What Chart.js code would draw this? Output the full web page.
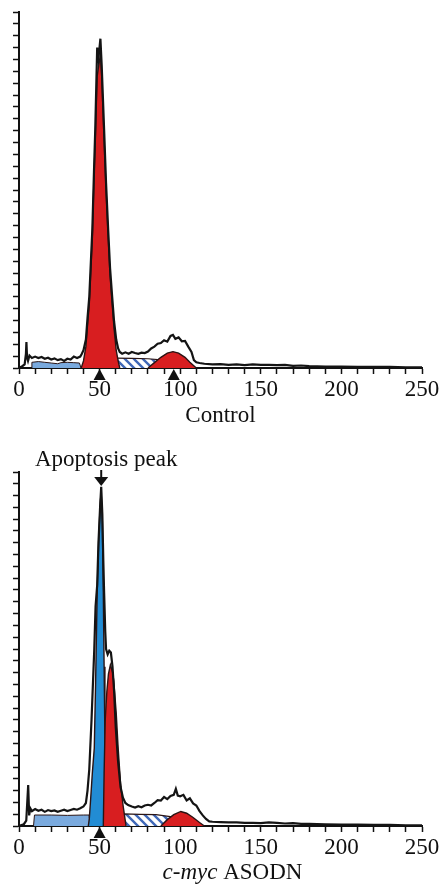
<!DOCTYPE html>
<html lang="en">
<head>
<meta charset="UTF-8">
<title>DNA histograms</title>
<script src="https://cdn.jsdelivr.net/npm/chart.js"></script>
<style>
  body { margin: 0; background: #fff; }
  canvas { position: absolute; left: 0; }
  #grafControl { top: 0; }
  #grafAsodn { top: 436px; }
</style>
</head>
<body>
<canvas id="grafControl" width="444" height="436"></canvas>
<canvas id="grafAsodn" width="444" height="450"></canvas>
<script>
// x = DNA channel, y = % of full scale
const xTickLabels = [0, 50, 100, 150, 200, 250];

// Control
const ctrlOutline = [[0,0],[2,0.5],[3.5,1],[4.3,4],[4.6,7.3],[5,3],[5.6,2],[6.5,3.5],[8,2.8],[10,3.2],[12,2.8],[14,3.1],[16,2.6],[18,2.9],[20,2.4],[22,2.7],[24,2.2],[26,2.5],[28,2],[30,2.6],[32,2.4],[34,3.2],[36,2.8],[38,3.2],[39,4],[40,5],[41.5,8],[42.5,14],[43.6,20],[45.5,39],[46.5,55],[47.3,67],[48.5,90],[49.3,87],[50.5,92.5],[51.3,85],[52.8,67],[54,52],[55.3,39],[56.5,28],[57.8,20],[59,13],[60.3,8],[61.5,5.5],[62.5,4.5],[64,4],[66,4.4],[68,4],[70,4.5],[72,4.2],[74,4],[76,4.3],[78,4.2],[80,4.6],[82,5.5],[84,6],[86,6.8],[88,7],[90,7.8],[92,7.4],[94,9],[95.5,9.3],[97,8.2],[99,8.6],[101,7.5],[103,7.6],[105,6],[107,4.5],[108.5,2.2],[110,1.6],[112,1.4],[115,1.2],[120,1],[125,1.1],[130,0.9],[135,1],[140,0.8],[145,1],[150,0.9],[155,0.9],[160,0.8],[165,0.9],[170,0.6],[175,0.7],[180,0.5],[190,0.4],[200,0.4],[210,0.3],[220,0.3],[230,0.3],[240,0.2],[250,0.2]];
const ctrlG1 = [[38.6,0],[40,2],[41.5,6],[42.5,12],[43.6,18],[45.5,37],[46.5,53],[47.3,64],[48.5,82],[49.5,85],[50.5,88],[51.3,82],[52.8,64],[54,50],[55.3,37],[56.5,26],[57.8,18],[59,11],[60.3,5],[61.5,2],[62.5,0]];
const ctrlS = [[42,0],[46,2.4],[52,2.8],[60,2.8],[70,2.7],[80,2.6],[90,2.2],[100,1.5],[106,0]];
const ctrlG2 = [[80,0],[84,1.5],[88,3],[92,4.2],[95.5,4.6],[99,4.2],[103,3],[106,1.6],[110,0]];
const ctrlDebris = [[7.7,0],[8,1.6],[12,1.8],[16,1.6],[20,1.4],[24,1.2],[26,1.5],[30,1.6],[34,1.5],[37.5,1.4],[38.5,0]];
const ctrlMarks = [50, 96];

// c-myc ASODN
const asoOutline = [[0,0],[3,0.5],[4.5,1.5],[5.7,11.6],[6.3,3],[7,5],[8,4.2],[10,4.8],[12,4.3],[14,4.6],[16,4],[18,4.5],[20,4.2],[22,4.4],[24,4],[26,4.3],[28,4.6],[30,4.2],[32,4.5],[34,4.8],[36,4.6],[38,5],[40,5.5],[41.5,6.5],[42.5,10],[43.6,16],[45,30],[46.7,50],[47.5,62],[48.5,68],[49.3,80],[50.3,90],[51,95.8],[51.7,88],[52.3,75],[52.8,66],[53.5,55],[54,50],[55,48.5],[56,49.5],[57,49],[58,45],[59,38],[60,28],[61.5,18],[63,11],[64.5,8],[66,6.5],[67.7,5.9],[70,5.5],[72,5.2],[74,5.6],[76,5.3],[78,5.8],[80,6],[82,5.8],[84,6.5],[86,7.3],[88,7.2],[90,8.2],[92,7.6],[94,8.5],[96,8.8],[97.3,10.5],[98.5,8.6],[100,8.4],[102,8.8],[104,7.2],[106,7.8],[108,6.4],[110,5.8],[112,4.2],[114,3],[116,2],[118,1.3],[120,1.2],[125,1.1],[130,1],[135,1],[140,0.9],[145,0.9],[150,0.8],[155,1],[160,0.9],[165,0.7],[170,0.8],[175,0.6],[180,0.6],[190,0.5],[200,0.4],[210,0.4],[220,0.3],[230,0.3],[240,0.2],[250,0.2]];
const asoApop = [[43,0],[43.6,2],[44.5,8],[45.5,15],[46.7,22],[47.5,40],[48.5,66],[49.5,82],[50.5,92],[51,94],[51.7,86],[52.3,66],[52.8,45],[53.3,25],[53.8,8],[54.3,0]];
const asoG1 = [[52.3,0],[52.8,15],[53.5,30],[54.5,38],[55.5,43],[56.7,45.5],[58,43.5],[58.8,41],[60.3,32],[61.5,22],[63,12],[64.5,6],[66.4,0]];
const asoS = [[52,0],[56,3.2],[65,3.4],[75,3.3],[85,3.2],[95,2.6],[102,1.5],[110,0]];
const asoG2 = [[88,0],[92,1.8],[96,3.2],[100.4,4.1],[104,3.6],[108,2.4],[112,1],[115,0]];
const asoDebris = [[9,0],[9.6,3.1],[20,3.1],[30,3],[40,3.1],[43.5,3.1],[44,0]];
const asoMarks = [50];
const apopPeakAt = 51;

const FONTE = 'Liberation Serif';

function hachura() {
  const c = document.createElement('canvas');
  c.width = 9; c.height = 9;
  const g = c.getContext('2d');
  g.fillStyle = '#fff';
  g.fillRect(0, 0, 9, 9);
  g.strokeStyle = '#3f68b8';
  g.lineWidth = 2.4;
  g.beginPath();
  g.moveTo(-1, -1); g.lineTo(10, 10);
  g.moveTo(-1, 8); g.lineTo(1, 10);
  g.moveTo(8, -1); g.lineTo(10, 1);
  g.stroke();
  return g.createPattern(c, 'repeat');
}

function linha(pts, cor, larg) {
  return { data: pts.map(p => ({ x: p[0], y: p[1] })), fill: false, borderColor: cor, borderWidth: larg, pointRadius: 0, tension: 0 };
}

function area(pts, cor, borda, larg) {
  return { data: pts.map(p => ({ x: p[0], y: p[1] })), fill: 'origin', backgroundColor: cor, borderColor: borda, borderWidth: larg, pointRadius: 0, tension: 0 };
}

// triangles under the axis at the peak positions
const marcas = {
  id: 'marcas',
  afterDraw(chart, args, opts) {
    const ctx = chart.ctx, x = chart.scales.x, y0 = chart.chartArea.bottom;
    ctx.save();
    ctx.fillStyle = '#111';
    (opts.pontos || []).forEach(v => {
      const px = x.getPixelForValue(v);
      ctx.beginPath();
      ctx.moveTo(px, y0 + 1);
      ctx.lineTo(px - 6, y0 + 12);
      ctx.lineTo(px + 6, y0 + 12);
      ctx.closePath();
      ctx.fill();
    });
    ctx.restore();
  }
};

// arrow + "Apoptosis peak"
const pico = {
  id: 'pico',
  afterDraw(chart, args, opts) {
    if (opts.em === undefined) return;
    const ctx = chart.ctx, px = chart.scales.x.getPixelForValue(opts.em), top = chart.chartArea.top;
    ctx.save();
    ctx.fillStyle = '#111';
    ctx.strokeStyle = '#111';
    ctx.lineWidth = 2;
    ctx.beginPath();
    ctx.moveTo(px, top - 2);
    ctx.lineTo(px, top + 6);
    ctx.stroke();
    ctx.beginPath();
    ctx.moveTo(px - 7, top + 5);
    ctx.lineTo(px + 7, top + 5);
    ctx.lineTo(px, top + 14);
    ctx.closePath();
    ctx.fill();
    ctx.font = '23px "' + FONTE + '"';
    ctx.textAlign = 'center';
    ctx.textBaseline = 'middle';
    ctx.fillText(opts.texto, px + 5, top - 12);
    ctx.restore();
  }
};

// x title with italic part
const rotulo = {
  id: 'rotulo',
  afterDraw(chart, args, opts) {
    if (!opts.partes) return;
    const ctx = chart.ctx;
    ctx.save();
    ctx.fillStyle = '#111';
    ctx.textBaseline = 'middle';
    let total = 0;
    const med = opts.partes.map(p => {
      ctx.font = (p.italico ? 'italic ' : '') + '23px "' + FONTE + '"';
      const w = ctx.measureText(p.t).width;
      total += w;
      return w;
    });
    let x = (chart.chartArea.left + chart.chartArea.right) / 2 + opts.desloc - total / 2;
    opts.partes.forEach((p, i) => {
      ctx.font = (p.italico ? 'italic ' : '') + '23px "' + FONTE + '"';
      ctx.fillText(p.t, x, opts.y);
      x += med[i];
    });
    ctx.restore();
  }
};

function opcoes(alturaX, topo, titulo) {
  return {
    responsive: false,
    animation: false,
    layout: { padding: { top: topo, right: 22, left: 0, bottom: 0 } },
    plugins: { legend: { display: false }, tooltip: { enabled: false } },
    scales: {
      x: {
        type: 'linear', min: 0, max: 250,
        border: { color: '#111', width: 2 },
        grid: { drawOnChartArea: false, tickLength: 6, color: '#111', tickWidth: 1.5 },
        ticks: {
          stepSize: 10, autoSkip: false, maxRotation: 0, color: '#111', padding: 2,
          font: { family: FONTE, size: 23 },
          callback: v => xTickLabels.includes(v) ? String(v) : ''
        },
        title: { display: !!titulo, text: titulo, color: '#111', font: { family: FONTE, size: 23 }, padding: { top: 0, bottom: 6 } },
        afterFit: s => { s.height = alturaX; }
      },
      y: {
        min: 0, max: 100,
        border: { color: '#111', width: 2 },
        grid: { drawOnChartArea: false, tickLength: 6, color: '#111', tickWidth: 1.5 },
        ticks: { display: false, count: 31 },
        afterFit: s => { s.width = 19; }
      }
    }
  };
}

const azulClaro = 'rgb(122, 170, 222)';
const vermelho = 'rgb(216, 30, 32)';
const azul = 'rgb(34, 140, 212)';
const bordaEsc = '#2a1414';

const optCtrl = opcoes(68, 12, 'Control');
optCtrl.plugins.marcas = { pontos: ctrlMarks };
new Chart(document.getElementById('grafControl'), {
  type: 'line',
  data: {
    datasets: [
      linha(ctrlOutline, '#141414', 2.2),
      area(ctrlG2, vermelho, bordaEsc, 1.4),
      area(ctrlG1, vermelho, bordaEsc, 1.4),
      area(ctrlS, hachura(), bordaEsc, 1.2),
      area(ctrlDebris, azulClaro, bordaEsc, 1)
    ]
  },
  options: optCtrl,
  plugins: [marcas]
});

const optAso = opcoes(60, 36, '');
optAso.plugins.marcas = { pontos: asoMarks };
optAso.plugins.pico = { em: apopPeakAt, texto: 'Apoptosis peak' };
optAso.plugins.rotulo = { y: 437, desloc: 12, partes: [{ t: 'c-myc', italico: true }, { t: ' ASODN', italico: false }] };
new Chart(document.getElementById('grafAsodn'), {
  type: 'line',
  data: {
    datasets: [
      linha(asoOutline, '#141414', 2.2),
      area(asoG2, vermelho, bordaEsc, 1.4),
      area(asoG1, vermelho, bordaEsc, 1.4),
      area(asoApop, azul, bordaEsc, 1.4),
      area(asoS, hachura(), bordaEsc, 1.2),
      area(asoDebris, azulClaro, bordaEsc, 1)
    ]
  },
  options: optAso,
  plugins: [marcas, pico, rotulo]
});
</script>
</body>
</html>
